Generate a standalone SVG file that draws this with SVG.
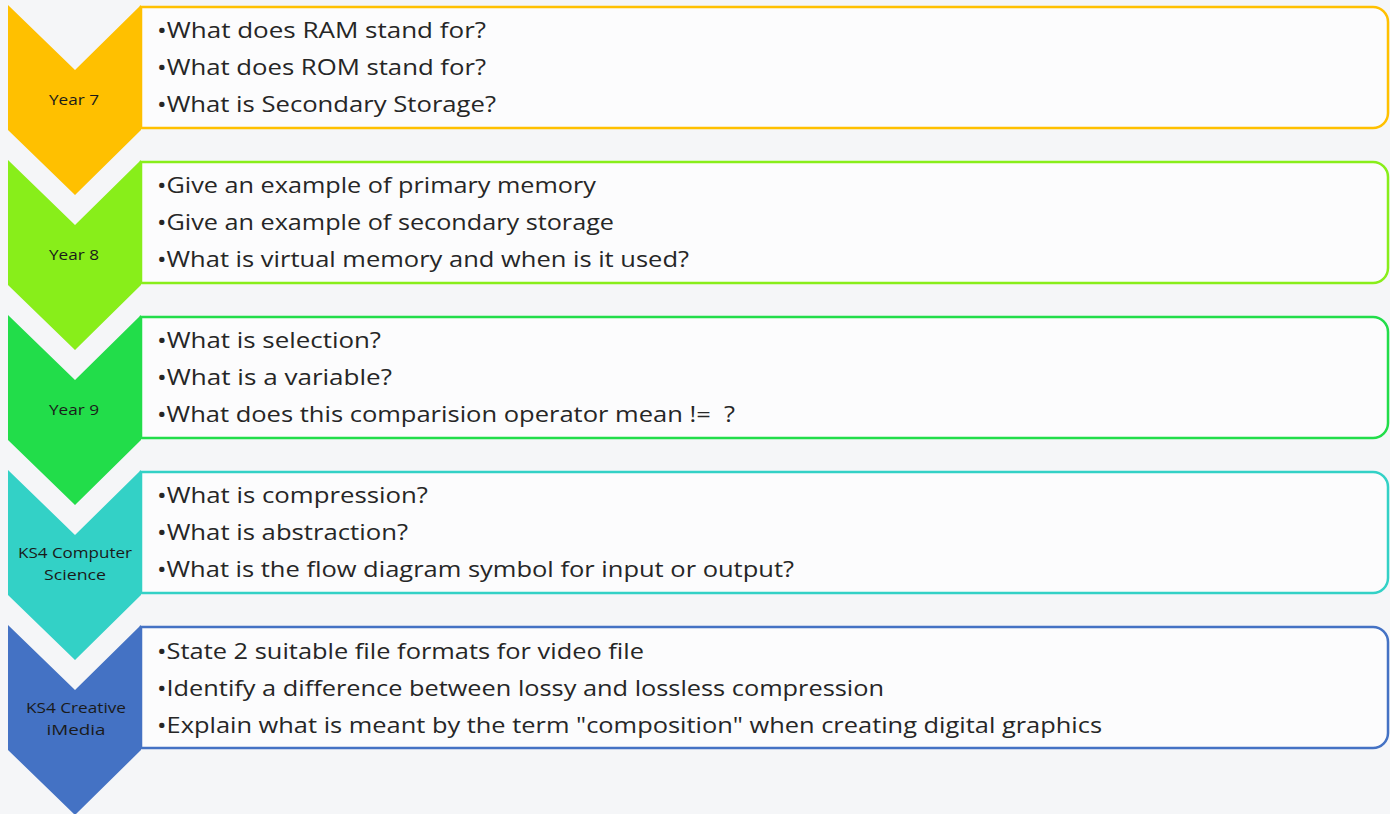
<svg xmlns="http://www.w3.org/2000/svg" width="1390" height="814" viewBox="0 0 1390 814">
<style>
.q{font-family:"Open Sans","Liberation Sans",Arial,sans-serif;font-size:22.5px;fill:#262626}
.lbl{font-family:"Open Sans","Liberation Sans",Arial,sans-serif;font-size:15px;fill:#1a1a1a;text-anchor:middle}
.box{fill:#fcfcfd;stroke-width:2.5}
</style>
<rect width="1390" height="814" fill="#f5f6f8"/>
<g id="year7">
<path class="box" stroke="#ffc000" d="M141,7 H1373 A15,15 0 0 1 1388,22 V113 A15,15 0 0 1 1373,128 H141 Z"/>
<path fill="#ffc000" d="M8,5 L75,70 L141,5 V130 L75,195 L8,130 Z"/>
<text class="lbl" x="74" y="105" textLength="50" lengthAdjust="spacingAndGlyphs">Year 7</text>
<text class="q" x="157" y="38" textLength="329" lengthAdjust="spacingAndGlyphs">•What does RAM stand for?</text>
<text class="q" x="157" y="75" textLength="329" lengthAdjust="spacingAndGlyphs">•What does ROM stand for?</text>
<text class="q" x="157" y="112" textLength="339" lengthAdjust="spacingAndGlyphs">•What is Secondary Storage?</text>
</g>
<g id="year8">
<path class="box" stroke="#88ee1a" d="M141,162 H1373 A15,15 0 0 1 1388,177 V268 A15,15 0 0 1 1373,283 H141 Z"/>
<path fill="#88ee1a" d="M8,160 L75,225 L141,160 V285 L75,350 L8,285 Z"/>
<text class="lbl" x="74" y="260" textLength="50" lengthAdjust="spacingAndGlyphs">Year 8</text>
<text class="q" x="157" y="193" textLength="439" lengthAdjust="spacingAndGlyphs">•Give an example of primary memory</text>
<text class="q" x="157" y="230" textLength="457" lengthAdjust="spacingAndGlyphs">•Give an example of secondary storage</text>
<text class="q" x="157" y="267" textLength="532" lengthAdjust="spacingAndGlyphs">•What is virtual memory and when is it used?</text>
</g>
<g id="year9">
<path class="box" stroke="#22dd4a" d="M141,317 H1373 A15,15 0 0 1 1388,332 V423 A15,15 0 0 1 1373,438 H141 Z"/>
<path fill="#22dd4a" d="M8,315 L75,380 L141,315 V440 L75,505 L8,440 Z"/>
<text class="lbl" x="74" y="415" textLength="50" lengthAdjust="spacingAndGlyphs">Year 9</text>
<text class="q" x="157" y="348" textLength="224" lengthAdjust="spacingAndGlyphs">•What is selection?</text>
<text class="q" x="157" y="385" textLength="235" lengthAdjust="spacingAndGlyphs">•What is a variable?</text>
<text class="q" x="157" y="422" textLength="578" lengthAdjust="spacingAndGlyphs" xml:space="preserve">•What does this comparision operator mean !=  ?</text>
</g>
<g id="ks4cs">
<path class="box" stroke="#33d1c6" d="M141,472 H1373 A15,15 0 0 1 1388,487 V578 A15,15 0 0 1 1373,593 H141 Z"/>
<path fill="#33d1c6" d="M8,470 L75,535 L141,470 V595 L75,660 L8,595 Z"/>
<text class="lbl" x="75" y="558" textLength="114" lengthAdjust="spacingAndGlyphs">KS4 Computer</text>
<text class="lbl" x="75" y="580" textLength="62" lengthAdjust="spacingAndGlyphs">Science</text>
<text class="q" x="157" y="503" textLength="271" lengthAdjust="spacingAndGlyphs">•What is compression?</text>
<text class="q" x="157" y="540" textLength="251" lengthAdjust="spacingAndGlyphs">•What is abstraction?</text>
<text class="q" x="157" y="577" textLength="637" lengthAdjust="spacingAndGlyphs">•What is the flow diagram symbol for input or output?</text>
</g>
<g id="ks4im">
<path class="box" stroke="#4472c4" d="M141,627 H1373 A15,15 0 0 1 1388,642 V733 A15,15 0 0 1 1373,748 H141 Z"/>
<path fill="#4472c4" d="M8,625 L75,690 L141,625 V750 L75,815 L8,750 Z"/>
<text class="lbl" x="76" y="713" textLength="100" lengthAdjust="spacingAndGlyphs">KS4 Creative</text>
<text class="lbl" x="76" y="735" textLength="59" lengthAdjust="spacingAndGlyphs">iMedia</text>
<text class="q" x="157" y="659" textLength="487" lengthAdjust="spacingAndGlyphs">•State 2 suitable file formats for video file</text>
<text class="q" x="157" y="696" textLength="727" lengthAdjust="spacingAndGlyphs">•Identify a difference between lossy and lossless compression</text>
<text class="q" x="157" y="733" textLength="945" lengthAdjust="spacingAndGlyphs">•Explain what is meant by the term "composition" when creating digital graphics</text>
</g>
</svg>
